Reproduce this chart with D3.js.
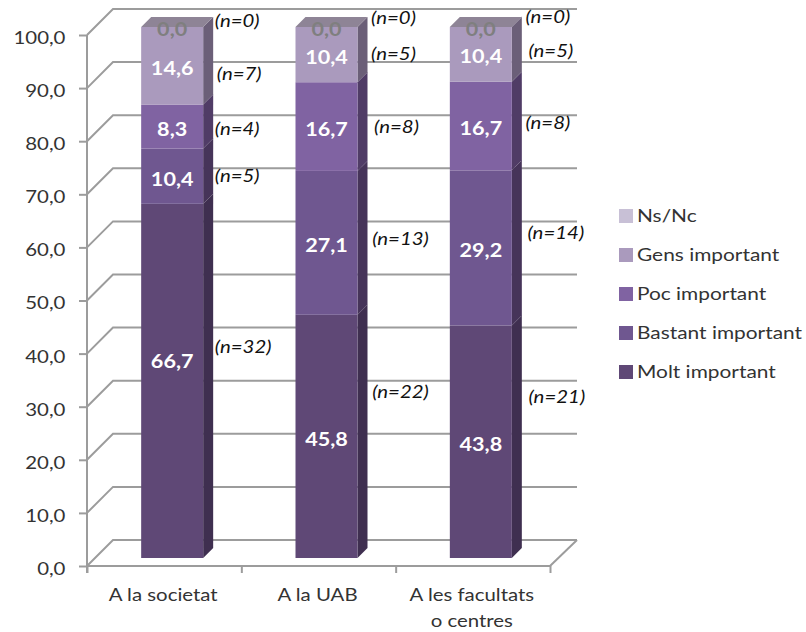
<!DOCTYPE html>
<html lang="en">
<head>
<meta charset="UTF-8" />
<title>Stacked bars</title>
<script src="https://cdnjs.cloudflare.com/ajax/libs/d3/7.8.5/d3.min.js"></script>
<style>
  html, body { margin: 0; background: #fff; }
  text { font-family: Lato, "Open Sans", sans-serif; fill: #333; }
</style>
</head>
<body>
<div id="chart"></div>
<script>
var categories = ["A la societat", "A la UAB", "A les facultats|o centres"];
var seriesNames = ["Molt important", "Bastant important", "Poc important", "Gens important", "Ns/Nc"];
var molt = [66.7, 45.8, 43.8];
var bastant = [10.4, 27.1, 29.2];
var poc = [8.3, 16.7, 16.7];
var gens = [14.6, 10.4, 10.4];
var nsnc = [0.0, 0.0, 0.0];
var nMolt = [32, 22, 21];
var nBastant = [5, 13, 14];
var nPoc = [4, 8, 8];
var nGens = [7, 5, 5];
var nNsnc = [0, 0, 0];
var yTicks = [0, 10, 20, 30, 40, 50, 60, 70, 80, 90, 100];

var values = [molt, bastant, poc, gens, nsnc];
var counts = [nMolt, nBastant, nPoc, nGens, nNsnc];

// front, side colours per series
var front = ["#5f4876", "#6f5790", "#8063a2", "#aa9abd", "#c8c0d6"];
var side = ["#3f2f50", "#463459", "#503c66", "#6b5f78", "#7d7389"];
var topFace = "#8e8496";

// depth of the fake 3d walls and bars
var wall = 26, inset = 8, depth = 10, barW = 62;
// the source picture was stretched sideways, so the text is too
var stretch = 1.2;

var svg = d3.select("#chart").append("svg").attr("width", 806).attr("height", 632);

var y = d3.scaleLinear().domain([0, 100]).range([566, 35]);
var x = d3.scaleBand().domain(categories).range([87, 550]);
var xEdges = d3.scaleLinear().domain([0, 3]).range([87, 550]);
var comma = d3.formatLocale({ decimal: ",", thousands: ".", grouping: [3], currency: ["", ""] }).format(".1f");
var lineColor = "#9c9c9c";

function placeText(sel, px, py) {
    return sel.attr("transform", "translate(" + px + "," + py + ") scale(" + stretch + ",1)");
}
function barCenter(c) {
    return x(categories[c]) + x.bandwidth() / 2 + inset;
}

// back wall and side wall lines
var grid = svg.append("g").attr("fill", "none").attr("stroke", lineColor).attr("stroke-width", 2);
grid.selectAll("path").data(yTicks).enter().append("path")
    .attr("d", function (d) {
        return d3.line()([[x.range()[0], y(d)], [x.range()[0] + wall, y(d) - wall], [x.range()[1] + wall + 1, y(d) - wall]]);
    });
grid.append("path").attr("d", d3.line()([[x.range()[1], y(0)], [x.range()[1] + wall + 1, y(0) - wall]]));

// bars
var stack = d3.stack().keys(d3.range(values.length)).value(function (row, k) { return values[k][row]; });
var layers = stack(d3.range(categories.length));
var bars = svg.append("g");

layers.forEach(function (layer, s) {
    layer.forEach(function (seg, c) {
        var x0 = barCenter(c) - barW / 2;
        var y0 = y(seg[0]) - inset, y1 = y(Math.min(seg[1], 100)) - inset;
        bars.append("path")
            .attr("fill", side[s])
            .attr("d", d3.line()([[x0 + barW, y0], [x0 + barW + depth, y0 - depth], [x0 + barW + depth, y1 - depth], [x0 + barW, y1]]) + "Z");
        if (seg[1] > seg[0]) {
            bars.append("rect").attr("x", x0).attr("y", y1).attr("width", barW).attr("height", y0 - y1).attr("fill", front[s]);
        } else {
            bars.append("path")
                .attr("fill", topFace)
                .attr("d", d3.line()([[x0, y1], [x0 + depth, y1 - depth], [x0 + barW + depth, y1 - depth], [x0 + barW, y1]]) + "Z");
        }
    });
});

// value labels
layers.forEach(function (layer, s) {
    layer.forEach(function (seg, c) {
        var empty = values[s][c] === 0;
        // the 66,7 label sits above the middle of its bar in the original
        var nudge = (s === 0 && c === 0) ? -19 : 3;
        placeText(svg.append("text"), barCenter(c), y((seg[0] + seg[1]) / 2) - inset + nudge)
            .attr("dy", "0.35em")
            .attr("text-anchor", "middle")
            .attr("font-size", 18)
            .attr("font-weight", 700)
            .style("fill", empty ? "#7f7f7f" : "#fff")
            .text(comma(values[s][c]));
    });
});

// the (n=..) notes were placed by hand in the original, so each has its own nudge
var noteNudge = [
    [[71, -34], [74, -44], [76, -45]],
    [[65, 0], [74, -4], [75, -15]],
    [[65, 2], [70, 0], [67, -3]],
    [[67, 8], [67, -1], [70, -3]],
    [[65, -6], [67, -9], [67, -9]]
];
layers.forEach(function (layer, s) {
    layer.forEach(function (seg, c) {
        placeText(svg.append("text"), barCenter(c) + noteNudge[s][c][0], y((seg[0] + seg[1]) / 2) - inset + noteNudge[s][c][1])
            .attr("dy", "0.35em")
            .attr("text-anchor", "middle")
            .attr("font-size", 17)
            .attr("font-style", "italic")
            .style("fill", "#111")
            .text("(n=" + counts[s][c] + ")");
    });
});

// axes
var yAxis = svg.append("g").attr("transform", "translate(" + x.range()[0] + ",0)")
    .call(d3.axisLeft(y).tickValues(yTicks).tickSize(8).tickPadding(10).tickFormat(comma));
var xAxis = svg.append("g").attr("transform", "translate(0," + y(0) + ")")
    .call(d3.axisBottom(xEdges).ticks(3).tickSize(7).tickFormat(""));
[yAxis, xAxis].forEach(function (a) {
    a.selectAll("path,line").attr("stroke", lineColor).attr("stroke-width", 2);
});
yAxis.selectAll("path").attr("d", "M0," + y(100) + "V" + (y(0) + 7));
xAxis.selectAll("path").attr("d", "M" + x.range()[0] + ",0H" + x.range()[1]);
yAxis.selectAll("text")
    .attr("font-size", 17)
    .attr("y", 3)
    .attr("transform", "scale(" + stretch + ",1)")
    .style("font-family", "Lato, sans-serif")
    .style("fill", "#333");

// category labels
categories.forEach(function (cat) {
    cat.split("|").forEach(function (line, i) {
        placeText(svg.append("text"), x(cat) + x.bandwidth() / 2 - 1, 601 + i * 26)
            .attr("text-anchor", "middle")
            .attr("font-size", 17)
            .text(line);
    });
});

// legend
var legendY = d3.scalePoint().domain(seriesNames).range([372, 216]);
var legend = svg.selectAll(".legend").data(seriesNames).enter().append("g")
    .attr("class", "legend")
    .attr("transform", function (d) { return "translate(619," + legendY(d) + ")"; });
legend.append("rect").attr("y", -7).attr("width", 14).attr("height", 14)
    .attr("fill", function (d, i) { return front[i]; });
placeText(legend.append("text"), 18, 0).attr("dy", "0.35em").attr("font-size", 17.4)
    .text(function (d) { return d; });
</script>
</body>
</html>
